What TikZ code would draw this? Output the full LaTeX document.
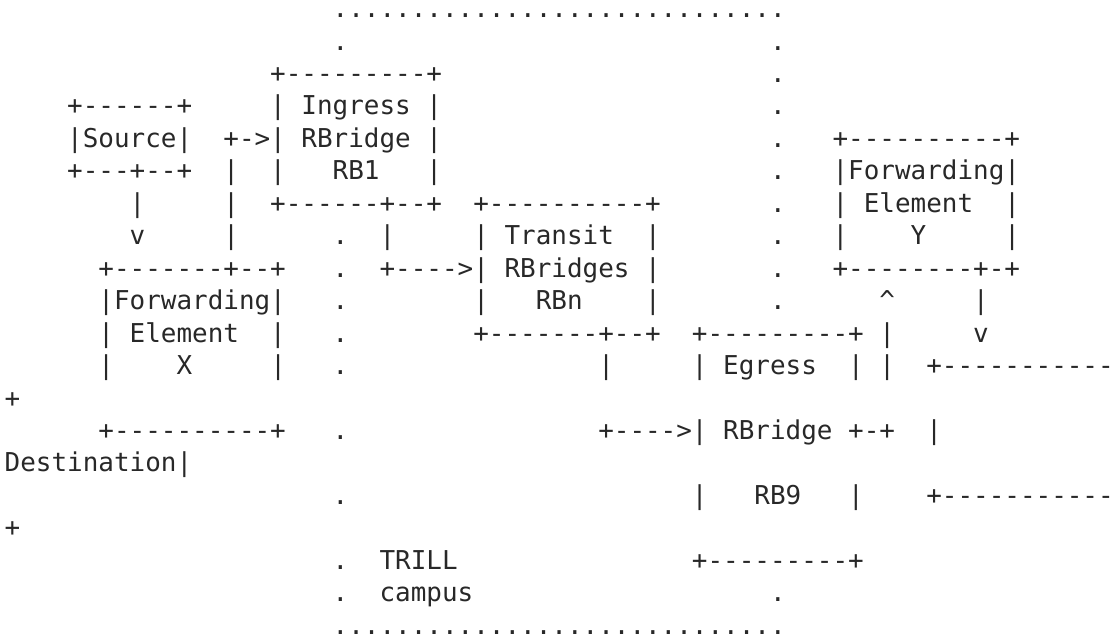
\documentclass[tikz,border=0pt]{standalone}
\usepackage{fontspec}
\setmonofont{DejaVu Sans Mono}
\definecolor{asciigray}{RGB}{40,40,40}

\tikzset{every picture/.style={line width=0.75pt}}
\tikzset{ascii/.style={anchor=base west,inner sep=0pt,outer sep=0pt,text=asciigray,font=\ttfamily\fontsize{19.46}{20}\selectfont}}

\begin{document}
\begin{tikzpicture}[x=0.75pt,y=0.75pt,yscale=-1,xscale=1]
\useasboundingbox (0,0) rectangle (1116,637);

% Text Node campus top
\node [ascii] (campusTop) at (332.72,17.60) {.............................};
\node [ascii] (campusL2) at (332.72,50.05) {.};
\node [ascii] (campusR2) at (770.08,50.05) {.};
% Text Node ingress
\node [ascii] (ingressTop) at (270.24,82.50) {+---------+};
\node [ascii] (campusR3) at (770.08,82.50) {.};
\node [ascii] (sourceTop) at (67.18,114.95) {+------+};
\node [ascii] (ingressA) at (270.24,114.95) {|~Ingress~|};
\node [ascii] (campusR4) at (770.08,114.95) {.};
\node [ascii] (sourceMid) at (67.18,147.40) {|Source|};
\node [ascii] (ingressB) at (223.38,147.40) {+->|~RBridge~|};
\node [ascii] (campusR5) at (770.08,147.40) {.};
\node [ascii] (feyTop) at (832.56,147.40) {+----------+};
\node [ascii] (sourceBot) at (67.18,179.85) {+---+--+};
\node [ascii] (loopA) at (223.38,179.85) {|};
\node [ascii] (ingressC) at (270.24,179.85) {|~~~RB1~~~|};
\node [ascii] (campusR6) at (770.08,179.85) {.};
\node [ascii] (feyA) at (832.56,179.85) {|Forwarding|};
% Text Node transit
\node [ascii] (srcDown) at (129.66,212.30) {|};
\node [ascii] (loopB) at (223.38,212.30) {|};
\node [ascii] (ingressBot) at (270.24,212.30) {+------+--+};
\node [ascii] (transitTop) at (473.30,212.30) {+----------+};
\node [ascii] (campusR7) at (770.08,212.30) {.};
\node [ascii] (feyB) at (832.56,212.30) {|~Element~~|};
\node [ascii] (srcArrow) at (129.66,244.75) {v};
\node [ascii] (loopC) at (223.38,244.75) {|};
\node [ascii] (campusL8) at (332.72,244.75) {.};
\node [ascii] (ingDown) at (379.58,244.75) {|};
\node [ascii] (transitA) at (473.30,244.75) {|~Transit~~|};
\node [ascii] (campusR8) at (770.08,244.75) {.};
\node [ascii] (feyC) at (832.56,244.75) {|~~~~Y~~~~~|};
\node [ascii] (fexTop) at (98.42,277.20) {+-------+--+};
\node [ascii] (campusL9) at (332.72,277.20) {.};
\node [ascii] (transitB) at (379.58,277.20) {+---->|~RBridges~|};
\node [ascii] (campusR9) at (770.08,277.20) {.};
\node [ascii] (feyBot) at (832.56,277.20) {+--------+-+};
\node [ascii] (fexA) at (98.42,309.65) {|Forwarding|};
\node [ascii] (campusL10) at (332.72,309.65) {.};
\node [ascii] (transitC) at (473.30,309.65) {|~~~RBn~~~~|};
\node [ascii] (campusR10) at (770.08,309.65) {.};
\node [ascii] (feyUp) at (879.42,309.65) {\textasciicircum};
\node [ascii] (feyDown) at (973.14,309.65) {|};
% Text Node egress
\node [ascii] (fexB) at (98.42,342.10) {|~Element~~|};
\node [ascii] (campusL11) at (332.72,342.10) {.};
\node [ascii] (transitBot) at (473.30,342.10) {+-------+--+};
\node [ascii] (egressTop) at (691.98,342.10) {+---------+~|};
\node [ascii] (feyArrow) at (973.14,342.10) {v};
\node [ascii] (fexC) at (98.42,374.55) {|~~~~X~~~~~|};
\node [ascii] (campusL12) at (332.72,374.55) {.};
\node [ascii] (transitDown) at (598.26,374.55) {|};
\node [ascii] (egressA) at (691.98,374.55) {|~Egress~~|~|~~+-----------};
\node [ascii] (destWrapA) at (4.70,407.00) {+};
\node [ascii] (fexBot) at (98.42,439.45) {+----------+};
\node [ascii] (campusL14) at (332.72,439.45) {.};
\node [ascii] (egressB) at (598.26,439.45) {+---->|~RBridge~+-+~~|};
\node [ascii] (destName) at (4.70,471.90) {Destination|};
\node [ascii] (campusL16) at (332.72,504.35) {.};
\node [ascii] (egressC) at (691.98,504.35) {|~~~RB9~~~|};
\node [ascii] (destBot) at (926.28,504.35) {+-----------};
\node [ascii] (destWrapB) at (4.70,536.80) {+};
% Text Node campus label
\node [ascii] (campusL18) at (332.72,569.25) {.};
\node [ascii] (trill) at (379.58,569.25) {TRILL};
\node [ascii] (egressBot) at (691.98,569.25) {+---------+};
\node [ascii] (campusL19) at (332.72,601.70) {.};
\node [ascii] (campus) at (379.58,601.70) {campus};
\node [ascii] (campusR19) at (770.08,601.70) {.};
\node [ascii] (campusBot) at (332.72,634.15) {.............................};

\end{tikzpicture}
\end{document}
